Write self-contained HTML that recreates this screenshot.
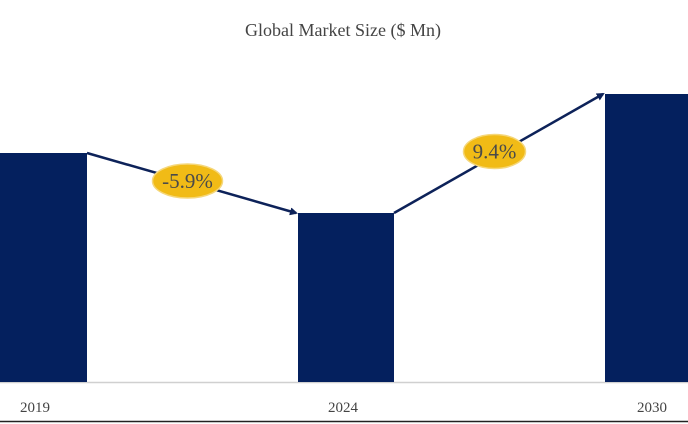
<!DOCTYPE html>
<html><head><meta charset="utf-8"><style>
html,body{margin:0;padding:0;background:#fff;width:688px;height:424px;overflow:hidden;font-family:"Liberation Serif",serif}
</style></head><body>
<svg id="chart" width="688" height="424" xmlns="http://www.w3.org/2000/svg">
<defs><marker id="ah" markerWidth="8" markerHeight="8" refX="6" refY="4" orient="auto" markerUnits="userSpaceOnUse"><path d="M0,0 L8,4 L0,8 z" fill="#0d2259"/></marker></defs>
<text x="343" y="36" text-anchor="middle" font-size="18" fill="#444">Global Market Size ($ Mn)</text>
<line x1="0" y1="382.5" x2="688" y2="382.5" stroke="#d0d0d0" stroke-width="1.5"/>
<line x1="0" y1="421.5" x2="688" y2="421.5" stroke="#222" stroke-width="1.5"/>
<g id="bars"></g>
<g id="growth"></g>
</svg>
<script>
const categories=["2019","2024","2030"];
const values=[229,169,288];
const growthLabels=["-5.9%","9.4%"];
const baseY=382, pxPerUnit=1;
const barX=[-10,298,605], barW=[97,96,95];
function y(v){return baseY-v*pxPerUnit;}
const ns="http://www.w3.org/2000/svg";
const bars=document.getElementById('bars'), gr=document.getElementById('growth');
const labelX=[35,343,652];
categories.forEach((c,i)=>{
  const r=document.createElementNS(ns,'rect');
  
  
  r.setAttribute('x',barX[i]);r.setAttribute('width',barW[i]);
  r.setAttribute('y',y(values[i]));r.setAttribute('height',baseY-y(values[i]));
  r.setAttribute('fill','#04205e');bars.appendChild(r);
  const t=document.createElementNS(ns,'text');
  
  
  t.setAttribute('x',labelX[i]);t.setAttribute('y',412);t.setAttribute('text-anchor','middle');
  t.setAttribute('font-size','15');t.setAttribute('fill','#444');t.textContent=c;bars.appendChild(t);
});
growthLabels.forEach((g,i)=>{
  const x1=barX[i]+barW[i], y1=y(values[i]), x2=barX[i+1]-2, y2=y(values[i+1]);
  const l=document.createElementNS(ns,'line');
  
  
  l.setAttribute('x1',x1);l.setAttribute('y1',y1);l.setAttribute('x2',x2);l.setAttribute('y2',y2);
  l.setAttribute('stroke','#0d2259');l.setAttribute('stroke-width','2.5');l.setAttribute('marker-end','url(#ah)');
  gr.appendChild(l);
  const cx=(x1+x2)/2-4, cy=(y1+y2)/2-2;
  const e=document.createElementNS(ns,'ellipse');
  
  
  e.setAttribute('cx',cx);e.setAttribute('cy',cy);e.setAttribute('rx',i==0?35:31);e.setAttribute('ry',17);
  e.setAttribute('fill','#f1bb16');e.setAttribute('stroke','#f5d77a');e.setAttribute('stroke-width','1.5');
  gr.appendChild(e);
  const t=document.createElementNS(ns,'text');
  
  
  t.setAttribute('x',cx);t.setAttribute('y',cy+7);t.setAttribute('text-anchor','middle');
  t.setAttribute('font-size','21');t.setAttribute('fill','#4a4a4a');t.textContent=g;gr.appendChild(t);
});
</script>
</body></html>
